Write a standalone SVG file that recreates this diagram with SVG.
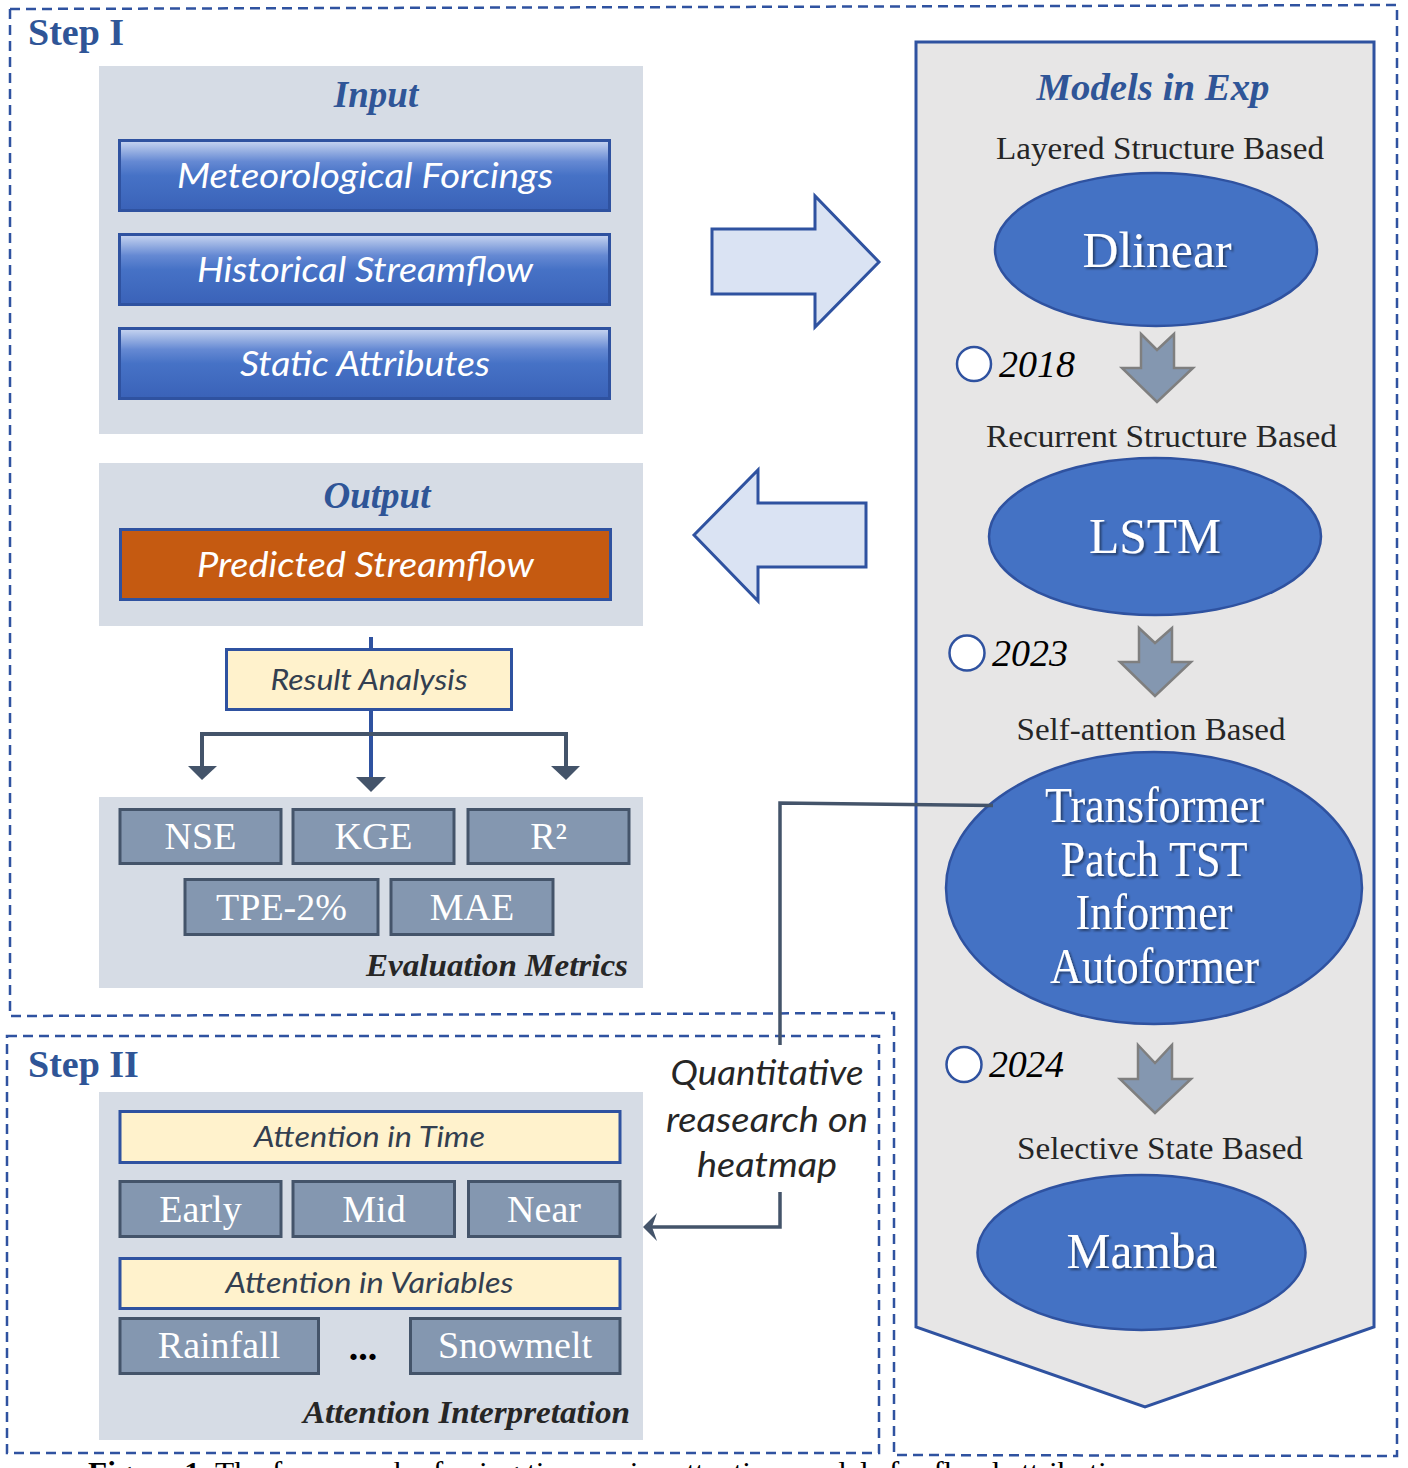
<svg xmlns="http://www.w3.org/2000/svg" width="1408" height="1468" viewBox="0 0 1408 1468">
<style>
.dash{fill:none;stroke:#2F52A0;stroke-width:2.5;stroke-dasharray:10 6}
.panel{fill:#D6DCE5}
.step{font-family:"Liberation Serif",serif;font-weight:bold;font-size:38px;fill:#2F5597}
.head{font-family:"Liberation Serif",serif;font-weight:bold;font-style:italic;font-size:37px;fill:#2F5597;text-anchor:middle}
.inbox{fill:url(#gBlue);stroke:#2F52A0;stroke-width:3}
.cal{font-family:Lato,"Open Sans",sans-serif;font-style:italic;text-anchor:middle}
.wtxt{fill:#FFFFFF;font-size:34px}
.ytxt{fill:#333F50;font-size:28px}
.ybox{fill:#FFF2CC;stroke:#2F52A0;stroke-width:3}
.mbox{fill:#8497B0;stroke:#44546A;stroke-width:3}
.mtxt{font-family:"Liberation Serif",serif;font-size:38px;fill:#FFFFFF;text-anchor:middle}
.bi{font-family:"Liberation Serif",serif;font-weight:bold;font-style:italic;font-size:32px;fill:#262626;text-anchor:end}
.cat{font-family:"Liberation Serif",serif;font-size:31px;fill:#262626;text-anchor:middle}
.ell{fill:#4472C4;stroke:#2F52A0;stroke-width:2.5}
.etxt{font-family:"Liberation Serif",serif;font-size:50px;fill:#FFFFFF;text-anchor:middle;filter:url(#sh)}
.yr{font-family:"Liberation Serif",serif;font-style:italic;font-size:38px;fill:#000000}
.yc{fill:#FFFFFF;stroke:#2F52A0;stroke-width:2.5}
.garr{fill:#8497B0;stroke:#7F7F7F;stroke-width:2.5;stroke-linejoin:miter}
.bigarr{fill:#DAE3F3;stroke:#2F52A0;stroke-width:3}
.conn{fill:none;stroke:#44546A;stroke-width:4}
.connb{fill:none;stroke:#2F52A0;stroke-width:4}
.ah{fill:#44546A}
</style>
<defs>
<linearGradient id="gBlue" x1="0" y1="0" x2="0" y2="1">
<stop offset="0" stop-color="#C9D6F1"/>
<stop offset="0.3" stop-color="#6589D3"/>
<stop offset="0.5" stop-color="#4672C6"/>
<stop offset="1" stop-color="#3A62B8"/>
</linearGradient>
<filter id="sh" x="-10%" y="-20%" width="130%" height="150%">
<feDropShadow dx="2" dy="2" stdDeviation="1.2" flood-color="#000000" flood-opacity="0.45"/>
</filter>
</defs>

<!-- step outlines -->
<path class="dash" d="M10,9 L1397,5 L1397,1456 L894,1455 L894,1013 L10,1016 Z"/>
<rect class="dash" x="7" y="1036" width="872" height="417"/>
<text class="step" x="28" y="45">Step I</text>
<text class="step" x="28" y="1077">Step II</text>

<!-- Input panel -->
<g id="input">
<rect class="panel" x="99" y="66" width="544" height="368"/>
<text class="head" x="376" y="107">Input</text>
</g>
<g id="meteo">
<rect class="inbox" x="119.5" y="140.5" width="490" height="70"/>
<text class="cal wtxt" x="365" y="188" textLength="376" lengthAdjust="spacingAndGlyphs">Meteorological Forcings</text>
</g>
<g id="hist">
<rect class="inbox" x="119.5" y="234.5" width="490" height="70"/>
<text class="cal wtxt" x="365" y="282" textLength="336" lengthAdjust="spacingAndGlyphs">Historical Streamflow</text>
</g>
<g id="static">
<rect class="inbox" x="119.5" y="328.5" width="490" height="70"/>
<text class="cal wtxt" x="365" y="376" textLength="250" lengthAdjust="spacingAndGlyphs">Static Attributes</text>
</g>

<!-- Output panel -->
<g id="output">
<rect class="panel" x="99" y="463" width="544" height="163"/>
<text class="head" x="377" y="508">Output</text>
</g>
<g id="predicted">
<rect x="120.5" y="529.5" width="490" height="70" fill="#C55A11" stroke="#2F52A0" stroke-width="3"/>
<text class="cal wtxt" x="365.5" y="577" textLength="337" lengthAdjust="spacingAndGlyphs">Predicted Streamflow</text>
</g>

<g id="result">
<rect class="ybox" x="226.5" y="649.5" width="285" height="60"/>
<text class="cal ytxt" x="369" y="690" textLength="197" lengthAdjust="spacingAndGlyphs">Result Analysis</text>
</g>

<!-- Evaluation metrics -->
<g id="metrics">
<rect class="panel" x="99" y="797" width="544" height="191"/>
<text class="bi" x="628" y="976" textLength="262" lengthAdjust="spacingAndGlyphs">Evaluation Metrics</text>
</g>
<g id="nse"><rect class="mbox" x="120" y="809.5" width="161" height="54"/><text class="mtxt" x="200.5" y="849">NSE</text></g>
<g id="kge"><rect class="mbox" x="293" y="809.5" width="161" height="54"/><text class="mtxt" x="373.5" y="849">KGE</text></g>
<g id="r2"><rect class="mbox" x="468" y="809.5" width="161" height="54"/><text class="mtxt" x="548.5" y="849">R²</text></g>
<g id="tpe"><rect class="mbox" x="185" y="879.5" width="193" height="55"/><text class="mtxt" x="281.5" y="920">TPE-2%</text></g>
<g id="mae"><rect class="mbox" x="391" y="879.5" width="162" height="55"/><text class="mtxt" x="472" y="920">MAE</text></g>

<!-- Attention interpretation -->
<g id="attn">
<rect class="panel" x="99" y="1092" width="544" height="348"/>
<text class="bi" x="630" y="1423" textLength="327" lengthAdjust="spacingAndGlyphs">Attention Interpretation</text>
</g>
<g id="attn-time">
<rect class="ybox" x="120" y="1111.5" width="500" height="51"/>
<text class="cal ytxt" x="369.5" y="1147" textLength="231" lengthAdjust="spacingAndGlyphs">Attention in Time</text>
</g>
<g id="early"><rect class="mbox" x="120" y="1181.5" width="161" height="55"/><text class="mtxt" x="200.5" y="1222">Early</text></g>
<g id="mid"><rect class="mbox" x="293" y="1181.5" width="161.5" height="55"/><text class="mtxt" x="374" y="1222">Mid</text></g>
<g id="near"><rect class="mbox" x="468.5" y="1181.5" width="151.5" height="55"/><text class="mtxt" x="544" y="1222">Near</text></g>
<g id="attn-var">
<rect class="ybox" x="120" y="1258.5" width="500" height="50"/>
<text class="cal ytxt" x="369.5" y="1293" textLength="288" lengthAdjust="spacingAndGlyphs">Attention in Variables</text>
</g>
<g id="rainfall"><rect class="mbox" x="120" y="1318.5" width="198.5" height="55"/><text class="mtxt" x="219" y="1358">Rainfall</text></g>
<text x="363" y="1360" font-family="Liberation Serif,serif" font-weight="bold" font-size="38" fill="#000000" text-anchor="middle">...</text>
<g id="snowmelt"><rect class="mbox" x="410.5" y="1318.5" width="209.5" height="55"/><text class="mtxt" x="515" y="1358">Snowmelt</text></g>

<!-- Models panel -->
<g id="models">
<polygon points="916,42 1374,42 1374,1327 1145,1407 916,1327" fill="#E7E6E6" stroke="#2F52A0" stroke-width="3"/>
<text class="head" x="1153" y="100" font-size="38" textLength="233" lengthAdjust="spacingAndGlyphs">Models in Exp</text>
<text class="cat" x="1160" y="159" textLength="328" lengthAdjust="spacingAndGlyphs">Layered Structure Based</text>
<text class="cat" x="1161.5" y="447" textLength="351" lengthAdjust="spacingAndGlyphs">Recurrent Structure Based</text>
<text class="cat" x="1151" y="740" textLength="269" lengthAdjust="spacingAndGlyphs">Self-attention Based</text>
<text class="cat" x="1160" y="1159" textLength="286" lengthAdjust="spacingAndGlyphs">Selective State Based</text>
</g>
<g id="dlinear">
<ellipse class="ell" cx="1156" cy="249.5" rx="161" ry="76.5"/>
<text class="etxt" x="1157" y="267" textLength="149" lengthAdjust="spacingAndGlyphs">Dlinear</text>
</g>
<g id="lstm">
<ellipse class="ell" cx="1155" cy="536.5" rx="166" ry="78.5"/>
<text class="etxt" x="1155" y="553" textLength="132" lengthAdjust="spacingAndGlyphs">LSTM</text>
</g>
<g id="transformers">
<ellipse class="ell" cx="1154" cy="888" rx="208" ry="136"/>
<text class="etxt" font-size="43" x="1154.5" y="822" textLength="219" lengthAdjust="spacingAndGlyphs">Transformer</text>
<text class="etxt" font-size="43" x="1154" y="876" textLength="187" lengthAdjust="spacingAndGlyphs">Patch TST</text>
<text class="etxt" font-size="43" x="1154" y="929" textLength="157" lengthAdjust="spacingAndGlyphs">Informer</text>
<text class="etxt" font-size="43" x="1154.5" y="983" textLength="209" lengthAdjust="spacingAndGlyphs">Autoformer</text>
</g>
<g id="mamba">
<ellipse class="ell" cx="1141.5" cy="1252.5" rx="164" ry="77.5"/>
<text class="etxt" x="1142" y="1268" textLength="151" lengthAdjust="spacingAndGlyphs">Mamba</text>
</g>

<!-- year markers -->
<g id="y2018">
<circle class="yc" cx="974" cy="364" r="17"/>
<text class="yr" x="999" y="377">2018</text>
<polygon class="garr" points="1141,334 1157,350 1174,334 1174,368 1193,368 1157,402 1122,368 1141,368"/>
</g>
<g id="y2023">
<circle class="yc" cx="967" cy="653" r="17.5"/>
<text class="yr" x="992" y="666">2023</text>
<polygon class="garr" points="1139,628 1155,643 1172,628 1172,662 1191,662 1155,696 1120,662 1139,662"/>
</g>
<g id="y2024">
<circle class="yc" cx="964" cy="1064.5" r="17.5"/>
<text class="yr" x="989" y="1077" textLength="75">2024</text>
<polygon class="garr" points="1138,1045 1155,1063 1172,1045 1172,1079 1191,1079 1155,1113 1120,1079 1138,1079"/>
</g>

<!-- big arrows -->
<g id="arrow-right"><polygon class="bigarr" points="712,229 815,229 815,196 879,262 815,327 815,294 712,294"/></g>
<g id="arrow-left"><polygon class="bigarr" points="694,535 758,470 758,503 866,503 866,567 758,567 758,601"/></g>

<!-- connectors -->
<g id="connectors">
<line class="connb" x1="371" y1="637" x2="371" y2="649"/>
<line class="connb" x1="371" y1="710" x2="371" y2="780"/>
<polyline class="conn" points="202,768 202,734 566,734 566,768"/>
<polygon class="ah" points="356,777 386,777 371,792"/>
<polygon class="ah" points="188,766 217,766 202,780"/>
<polygon class="ah" points="551,766 580,766 566,780"/>
<polyline fill="none" stroke="#44546A" stroke-width="3.5" points="993,805.5 780,803 780,1045"/>
<polyline fill="none" stroke="#44546A" stroke-width="3.5" points="780,1192 780,1227 652,1227"/>
<polygon class="ah" points="643,1227 657,1213 652,1227 657,1241"/>
</g>
<g id="note">
<text class="cal" font-size="34" fill="#262626" x="767" y="1085" textLength="193" lengthAdjust="spacingAndGlyphs">Quantitative</text>
<text class="cal" font-size="34" fill="#262626" x="767" y="1132" textLength="202" lengthAdjust="spacingAndGlyphs">reasearch on</text>
<text class="cal" font-size="34" fill="#262626" x="767" y="1177" textLength="140" lengthAdjust="spacingAndGlyphs">heatmap</text>
</g>

<!-- clipped caption -->
<text x="88" y="1482" font-family="Liberation Serif,serif" font-size="30" fill="#000000" textLength="1050" lengthAdjust="spacingAndGlyphs"><tspan font-weight="bold">Figure 1.</tspan> The framework of using time-series attention models for flood attribution</text>
</svg>
